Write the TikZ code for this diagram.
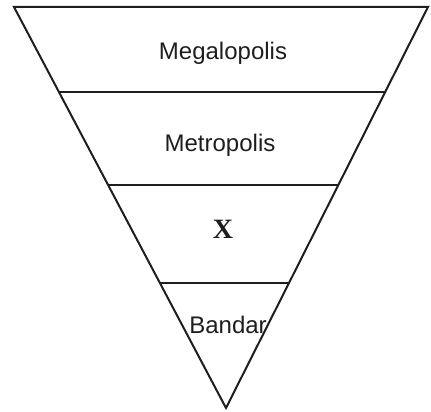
\documentclass[tikz,border=0pt]{standalone}
\usepackage{fontspec}
\setmainfont{Liberation Sans}
\newfontfamily\xserif{Liberation Serif}
\usetikzlibrary{calc, positioning}
\definecolor{inkgray}{HTML}{1E1E1E}

\begin{document}
\begin{tikzpicture}[x=1pt,y=-1pt,line width=2pt,inkgray,
    tierlabel/.style={font=\fontsize{24}{28}\selectfont,inner sep=0pt}]
    \useasboundingbox (0,0) rectangle (431,412);
    \coordinate (topL) at (14,7);
    \coordinate (topR) at (428,7);
    \coordinate (apex) at (226,408);
    \draw[line join=miter] (topL) -- (topR) -- (apex) -- cycle;
    \foreach \t/\n in {0.212/a,0.444/b,0.688/c}
      \draw ($(topL)!\t!(apex)$) coordinate (l\n) -- ($(topR)!\t!(apex)$) coordinate (r\n);
    \node[tierlabel] (megalo) at (223,53) {Megalopolis};
    \node[tierlabel] (metro) at (220,145) {Metropolis};
    \node[font=\xserif\bfseries\fontsize{28}{32}\selectfont,inner sep=0pt] (xtier) at (223,229) {X};
    \node[tierlabel] (bandar) at (228,325) {Bandar};
  \end{tikzpicture}
\end{document}
